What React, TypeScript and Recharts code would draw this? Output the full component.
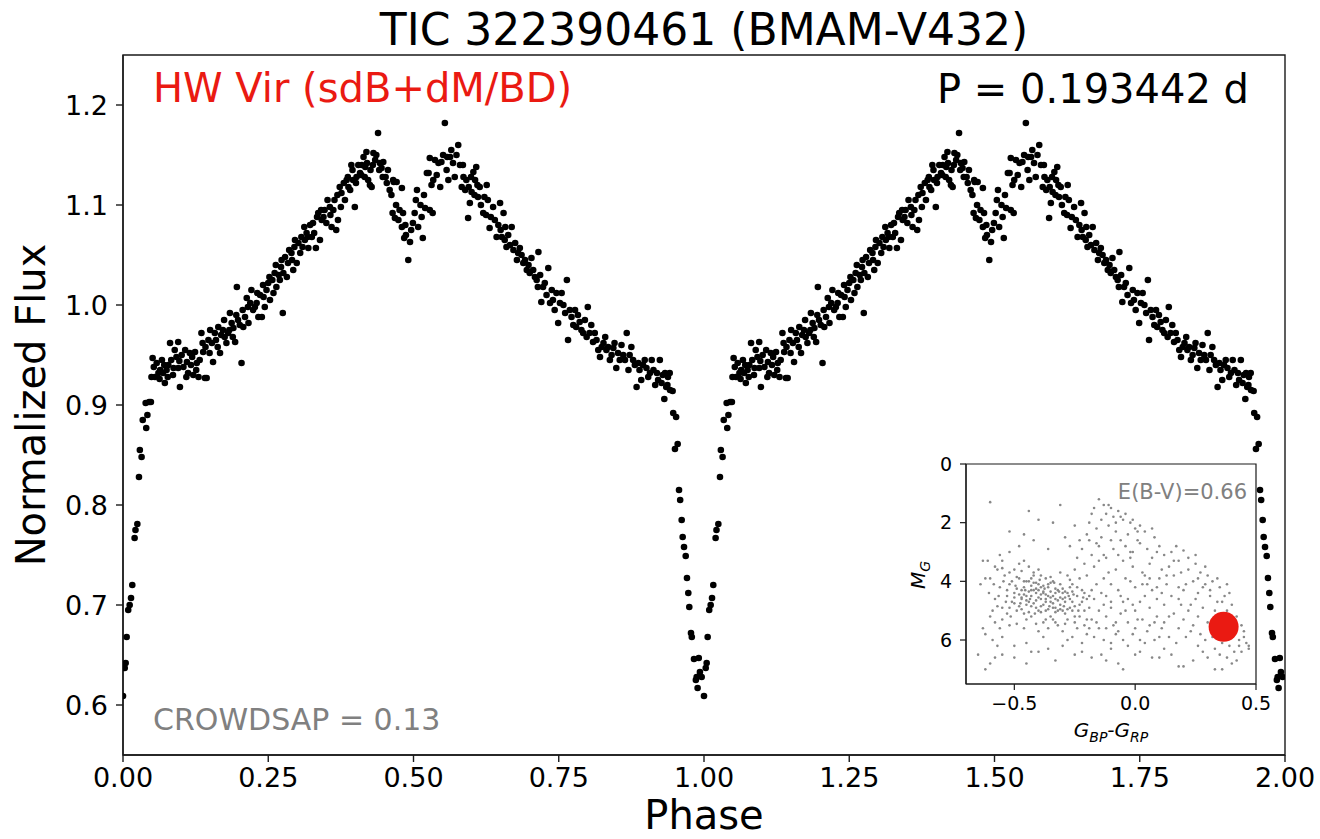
import React from 'react';
import { ScatterChart, Scatter, XAxis, YAxis, ReferenceArea } from 'recharts';

// one cycle of the folded light curve: [phase, normalized flux]
const EGRESS: [number, number][] = [
  [0.000, 0.609], [0.003, 0.637], [0.0046, 0.642], [0.0063, 0.668], [0.009, 0.695], [0.0115, 0.700],
  [0.0138, 0.707], [0.016, 0.720], [0.020, 0.767], [0.0215, 0.775], [0.0247, 0.781], [0.0275, 0.828],
  [0.029, 0.855], [0.032, 0.848], [0.034, 0.885], [0.040, 0.877], [0.042, 0.890], [0.039, 0.902],
  [0.045, 0.903], [0.048, 0.903],
];

const RISE: [number, number][] = [
  [0.049, 0.928], [0.051, 0.947], [0.055, 0.928], [0.061, 0.932], [0.064, 0.935], [0.067, 0.945],
  [0.069, 0.932], [0.072, 0.922], [0.075, 0.935], [0.078, 0.940], [0.081, 0.962], [0.087, 0.937],
  [0.089, 0.955], [0.095, 0.963], [0.095, 0.937], [0.098, 0.918], [0.101, 0.950], [0.107, 0.955],
  [0.110, 0.943], [0.112, 0.932], [0.115, 0.952], [0.121, 0.930], [0.124, 0.953], [0.127, 0.942],
  [0.130, 0.928], [0.135, 0.972], [0.138, 0.953], [0.141, 0.927], [0.144, 0.927], [0.147, 0.965],
  [0.150, 0.975], [0.155, 0.943], [0.158, 0.972], [0.164, 0.978], [0.167, 0.952], [0.172, 0.975],
  [0.175, 0.968], [0.181, 0.972], [0.184, 0.992], [0.187, 0.982], [0.190, 0.977], [0.193, 0.963],
  [0.196, 1.018], [0.198, 0.985], [0.204, 0.942], [0.207, 0.978], [0.213, 1.007], [0.216, 0.982],
  [0.221, 1.015], [0.224, 0.995], [0.230, 1.002], [0.233, 0.988], [0.239, 0.988], [0.242, 1.008],
  [0.244, 0.998], [0.250, 1.022], [0.253, 1.005], [0.259, 1.012], [0.261, 1.032], [0.264, 1.018],
  [0.270, 1.025], [0.273, 1.045], [0.275, 0.992], [0.276, 1.032], [0.282, 1.028], [0.284, 1.042],
  [0.290, 1.052], [0.293, 1.035], [0.296, 1.065], [0.299, 1.042], [0.305, 1.052], [0.307, 1.068],
  [0.313, 1.065], [0.316, 1.072], [0.319, 1.057], [0.325, 1.068], [0.327, 1.082], [0.332, 1.057],
  [0.336, 1.092], [0.339, 1.065], [0.342, 1.085], [0.347, 1.095], [0.350, 1.082], [0.356, 1.098],
  [0.359, 1.078], [0.362, 1.095], [0.367, 1.075], [0.370, 1.085], [0.373, 1.118], [0.376, 1.112],
  [0.382, 1.105], [0.385, 1.125], [0.388, 1.118], [0.393, 1.140], [0.396, 1.125], [0.399, 1.098],
  [0.402, 1.128], [0.408, 1.132], [0.411, 1.140], [0.414, 1.148], [0.417, 1.138], [0.419, 1.153],
  [0.422, 1.125], [0.425, 1.120], [0.428, 1.118], [0.431, 1.152], [0.434, 1.145], [0.439, 1.172],
  [0.442, 1.142], [0.445, 1.137], [0.448, 1.143],
  [0.053, 0.938], [0.058, 0.942], [0.063, 0.926], [0.071, 0.940], [0.077, 0.928], [0.083, 0.945],
  [0.086, 0.930], [0.092, 0.948], [0.097, 0.944], [0.104, 0.938], [0.109, 0.928], [0.117, 0.940],
  [0.119, 0.948], [0.126, 0.935], [0.132, 0.945], [0.137, 0.962], [0.142, 0.958], [0.149, 0.952],
  [0.153, 0.962], [0.160, 0.965], [0.163, 0.958], [0.169, 0.970], [0.174, 0.985], [0.178, 0.962],
  [0.183, 0.975], [0.189, 0.968], [0.195, 0.990], [0.201, 0.980], [0.206, 0.995], [0.210, 0.988],
  [0.215, 0.998], [0.219, 1.002], [0.227, 0.998], [0.231, 1.012], [0.236, 1.010], [0.241, 1.020],
  [0.247, 1.015], [0.252, 1.028], [0.257, 1.025], [0.263, 1.040], [0.268, 1.030], [0.272, 1.038],
  [0.279, 1.048], [0.286, 1.055], [0.291, 1.045], [0.295, 1.058], [0.302, 1.062], [0.309, 1.058],
  [0.312, 1.078], [0.318, 1.068], [0.322, 1.080], [0.329, 1.072], [0.334, 1.088], [0.341, 1.095],
  [0.345, 1.088], [0.352, 1.105], [0.357, 1.090], [0.364, 1.105], [0.369, 1.110], [0.375, 1.098],
  [0.380, 1.122], [0.387, 1.128], [0.391, 1.115], [0.395, 1.135], [0.401, 1.122], [0.405, 1.140],
  [0.410, 1.130], [0.416, 1.128], [0.420, 1.142], [0.426, 1.135], [0.430, 1.140], [0.436, 1.150],
  [0.441, 1.135], [0.447, 1.128],
];

const REFLECTION_DIP: [number, number][] = [
  [0.452, 1.128], [0.456, 1.135], [0.459, 1.115], [0.465, 1.125], [0.466, 1.123], [0.471, 1.123],
  [0.464, 1.092], [0.468, 1.087], [0.474, 1.085], [0.480, 1.117], [0.482, 1.092], [0.480, 1.078],
  [0.484, 1.067], [0.487, 1.070], [0.491, 1.045], [0.494, 1.063], [0.499, 1.082], [0.502, 1.092],
  [0.506, 1.115], [0.508, 1.078], [0.512, 1.100], [0.516, 1.067], [0.520, 1.097], [0.526, 1.132],
  [0.528, 1.095], [0.533, 1.092], [0.523, 1.132], [0.528, 1.147], [0.534, 1.125], [0.537, 1.145],
  [0.543, 1.142], [0.546, 1.118], [0.548, 1.143], [0.554, 1.182], [0.557, 1.135], [0.560, 1.125],
  [0.563, 1.148], [0.565, 1.155], [0.568, 1.142], [0.571, 1.128], [0.577, 1.160], [0.580, 1.140],
  [0.454, 1.122], [0.462, 1.110], [0.470, 1.100], [0.476, 1.095], [0.486, 1.080], [0.496, 1.075],
  [0.504, 1.105], [0.514, 1.088], [0.518, 1.110], [0.531, 1.120], [0.540, 1.130], [0.551, 1.150],
  [0.558, 1.148], [0.574, 1.150],
];

const DECLINE: [number, number][] = [
  [0.583, 1.118], [0.586, 1.128], [0.591, 1.125], [0.594, 1.087], [0.597, 1.102], [0.600, 1.113],
  [0.603, 1.133], [0.606, 1.125], [0.608, 1.138], [0.611, 1.108], [0.614, 1.118], [0.620, 1.092],
  [0.626, 1.120], [0.628, 1.105], [0.631, 1.077], [0.637, 1.098], [0.643, 1.068], [0.649, 1.102],
  [0.655, 1.092], [0.658, 1.078], [0.652, 1.068], [0.660, 1.058], [0.669, 1.078], [0.672, 1.055],
  [0.680, 1.052], [0.683, 1.057], [0.689, 1.042], [0.695, 1.035], [0.700, 1.032], [0.703, 1.047],
  [0.706, 1.035], [0.712, 1.025], [0.715, 1.053], [0.718, 1.030], [0.720, 1.003], [0.723, 1.018],
  [0.732, 1.037], [0.735, 1.002], [0.738, 1.015], [0.740, 1.005], [0.746, 1.012], [0.752, 1.002],
  [0.755, 1.012], [0.749, 0.982], [0.764, 1.025], [0.766, 0.965], [0.772, 0.988], [0.778, 0.995],
  [0.780, 0.978], [0.786, 0.983], [0.792, 0.972], [0.800, 0.998], [0.803, 0.972], [0.809, 0.963],
  [0.815, 0.965], [0.821, 0.948], [0.824, 0.958], [0.830, 0.968], [0.832, 0.955], [0.838, 0.945],
  [0.844, 0.957], [0.849, 0.937], [0.852, 0.952], [0.858, 0.960], [0.861, 0.950], [0.867, 0.972],
  [0.870, 0.935], [0.875, 0.958], [0.878, 0.945], [0.884, 0.918], [0.887, 0.942], [0.892, 0.925],
  [0.898, 0.945], [0.901, 0.937], [0.907, 0.932], [0.910, 0.945], [0.916, 0.920], [0.919, 0.932],
  [0.924, 0.945], [0.927, 0.922], [0.933, 0.932], [0.938, 0.928], [0.935, 0.918], [0.941, 0.932],
  [0.585, 1.140], [0.589, 1.115], [0.595, 1.118], [0.599, 1.128], [0.605, 1.110], [0.610, 1.120],
  [0.616, 1.100], [0.622, 1.108], [0.625, 1.090], [0.633, 1.088], [0.640, 1.085], [0.646, 1.080],
  [0.650, 1.075], [0.657, 1.065], [0.663, 1.070], [0.666, 1.060], [0.675, 1.062], [0.678, 1.045],
  [0.686, 1.050], [0.692, 1.045], [0.698, 1.040], [0.709, 1.028], [0.714, 1.018], [0.726, 1.022],
  [0.729, 1.010], [0.743, 0.995], [0.758, 1.000], [0.761, 0.992], [0.769, 0.995], [0.775, 0.980],
  [0.783, 0.990], [0.789, 0.975], [0.795, 0.985], [0.798, 0.968], [0.806, 0.980], [0.812, 0.972],
  [0.818, 0.955], [0.827, 0.962], [0.835, 0.958], [0.841, 0.950], [0.846, 0.962], [0.855, 0.945],
  [0.864, 0.945], [0.872, 0.950], [0.881, 0.940], [0.889, 0.935], [0.895, 0.940], [0.904, 0.928],
  [0.913, 0.935], [0.921, 0.925], [0.929, 0.930], [0.937, 0.920],
];

const INGRESS: [number, number][] = [
  [0.9317, 0.906], [0.9415, 0.915], [0.946, 0.914], [0.947, 0.892], [0.952, 0.888], [0.9547, 0.861],
  [0.950, 0.856], [0.957, 0.815], [0.959, 0.805], [0.9616, 0.785], [0.9633, 0.768], [0.9656, 0.758],
  [0.9685, 0.749], [0.9707, 0.727], [0.973, 0.712], [0.9747, 0.698], [0.9776, 0.672], [0.979, 0.668],
  [0.9828, 0.646], [0.991, 0.647], [0.9874, 0.628], [0.993, 0.633], [0.996, 0.628], [0.989, 0.617],
  [0.986, 0.625],
];

// Gaia CMD of comparison stars: [G_BP-G_RP, M_G]
const CMD_CLUSTER: [number, number][] = [
  [-0.52, 4.1], [-0.50, 4.4], [-0.48, 3.9], [-0.47, 4.6], [-0.46, 4.2], [-0.45, 4.8], [-0.44, 4.0], [-0.43, 4.5],
  [-0.42, 4.3], [-0.41, 4.9], [-0.40, 4.1], [-0.39, 4.6], [-0.38, 4.4], [-0.37, 5.0], [-0.36, 4.2], [-0.35, 4.7],
  [-0.34, 4.5], [-0.33, 4.9], [-0.32, 4.3], [-0.31, 4.8], [-0.30, 4.6], [-0.29, 5.1], [-0.28, 4.4], [-0.27, 4.9],
  [-0.26, 4.7], [-0.25, 5.2], [-0.24, 4.5], [-0.51, 4.7], [-0.49, 5.0], [-0.47, 4.3], [-0.46, 5.1], [-0.45, 4.0],
  [-0.44, 4.7], [-0.43, 5.2], [-0.42, 3.8], [-0.41, 4.4], [-0.40, 5.0], [-0.39, 4.2], [-0.38, 4.8], [-0.37, 3.9],
  [-0.36, 4.5], [-0.35, 5.2], [-0.34, 4.0], [-0.33, 4.6], [-0.32, 5.0], [-0.31, 4.1], [-0.30, 4.4], [-0.29, 4.7],
  [-0.28, 5.3], [-0.27, 4.2], [-0.26, 5.0], [-0.23, 4.8], [-0.22, 4.3], [-0.21, 5.0], [-0.20, 4.6], [-0.53, 4.5],
  [-0.54, 3.8], [-0.55, 4.9], [-0.56, 4.2], [-0.57, 3.6], [-0.58, 4.6], [-0.59, 5.0], [-0.60, 3.9], [-0.61, 3.3],
  [-0.58, 5.4], [-0.55, 5.3], [-0.52, 5.5], [-0.50, 3.6], [-0.48, 3.4], [-0.46, 3.3], [-0.44, 3.5], [-0.42, 3.7],
  [-0.40, 3.6], [-0.38, 5.4], [-0.36, 5.6], [-0.34, 5.3], [-0.32, 5.5], [-0.30, 5.0], [-0.28, 3.8], [-0.26, 4.1],
  [-0.24, 5.6], [-0.47, 4.55], [-0.44, 4.35], [-0.41, 4.65], [-0.39, 4.85], [-0.37, 4.45], [-0.43, 4.85],
  [-0.45, 4.5], [-0.40, 4.3], [-0.35, 4.35], [-0.33, 4.25], [-0.31, 4.55], [-0.29, 4.35], [-0.49, 4.25],
  [-0.50, 4.75], [-0.38, 4.15], [-0.36, 4.95], [-0.42, 4.05], [-0.34, 4.75], [-0.46, 4.45], [-0.43, 4.15],
  [-0.41, 4.25], [-0.39, 4.45], [-0.37, 4.7], [-0.35, 4.05], [-0.33, 5.05], [-0.48, 4.85], [-0.52, 4.9],
  [-0.53, 4.3], [-0.51, 4.0], [-0.50, 4.55], [-0.49, 3.85], [-0.48, 4.45], [-0.47, 4.95], [-0.46, 4.0],
  [-0.45, 4.65], [-0.44, 5.05], [-0.43, 4.3], [-0.42, 4.75], [-0.41, 4.05], [-0.40, 4.55], [-0.39, 5.05],
  [-0.38, 4.35], [-0.37, 4.6], [-0.36, 4.1], [-0.35, 4.55], [-0.34, 4.9], [-0.33, 4.4], [-0.32, 4.65],
  [-0.31, 4.95], [-0.30, 4.25], [-0.29, 4.55], [-0.28, 4.95], [-0.27, 4.6], [-0.26, 4.35], [-0.25, 4.85],
  [-0.24, 4.2], [-0.23, 5.2], [-0.22, 4.7], [-0.21, 4.4], [-0.20, 5.3], [-0.19, 4.5], [-0.535, 4.7],
  [-0.515, 5.2], [-0.495, 4.15], [-0.475, 4.75], [-0.455, 4.3], [-0.435, 4.6], [-0.415, 5.1], [-0.395, 3.95],
  [-0.375, 4.25], [-0.355, 4.85], [-0.335, 4.05], [-0.315, 4.35], [-0.295, 4.85], [-0.275, 4.5], [-0.255, 4.45],
  [-0.235, 5.0], [-0.215, 4.55], [-0.545, 4.0], [-0.565, 4.5], [-0.585, 4.1], [-0.605, 4.4], [-0.57, 4.85],
  [-0.55, 3.55], [-0.52, 3.7], [-0.47, 3.65], [-0.43, 3.9], [-0.39, 3.8], [-0.35, 3.85], [-0.31, 3.7],
  [-0.27, 3.95], [-0.23, 3.9], [-0.45, 5.3], [-0.41, 5.45], [-0.37, 5.3], [-0.33, 5.4], [-0.29, 5.45],
  [-0.25, 5.4], [-0.21, 5.5], [-0.49, 5.45], [-0.53, 5.1], [-0.56, 5.6], [-0.46, 5.6], [-0.40, 5.7],
  [-0.30, 5.7], [-0.26, 5.9],
];

const CMD_FIELD: [number, number][] = [
  [-0.17, 1.5], [-0.15, 1.2], [-0.13, 1.4], [-0.12, 1.7], [-0.10, 1.5], [-0.09, 1.8], [-0.07, 1.6], [-0.05, 1.9],
  [-0.04, 1.7], [-0.02, 2.0], [0.00, 2.2], [0.02, 2.1], [0.01, 2.3], [-0.18, 1.7], [-0.19, 2.0], [-0.20, 2.4],
  [-0.16, 2.2], [-0.14, 2.5], [-0.11, 2.1], [-0.08, 2.3], [-0.06, 2.6], [-0.03, 2.4], [-0.22, 2.9], [-0.18, 3.1],
  [-0.15, 2.8], [-0.12, 3.2], [-0.09, 2.9], [-0.05, 3.3], [-0.02, 3.0], [0.02, 2.7], [0.05, 2.9], [0.08, 2.5],
  [0.10, 2.8], [0.12, 3.1], [0.06, 3.4], [0.03, 3.7], [-0.01, 3.5], [-0.04, 3.9], [-0.08, 3.6], [-0.13, 3.9],
  [-0.17, 3.5], [-0.21, 3.4], [-0.24, 3.2], [-0.27, 2.8], [-0.25, 3.6], [0.15, 3.0], [0.18, 3.3], [0.20, 2.95],
  [0.22, 3.6], [0.25, 3.4], [0.27, 3.7], [0.30, 3.8], [0.32, 4.0], [0.28, 4.2], [0.24, 4.0], [0.20, 4.3],
  [0.16, 3.8], [0.13, 4.1], [0.10, 3.9], [0.07, 4.3], [0.04, 4.5], [0.00, 4.2], [-0.03, 4.6], [-0.07, 4.3],
  [-0.10, 4.7], [-0.14, 4.4], [-0.17, 4.6], [0.35, 4.2], [0.37, 4.5], [0.34, 4.7], [0.31, 4.5], [0.28, 4.9],
  [0.25, 4.6], [0.22, 5.0], [0.19, 4.8], [0.16, 5.1], [0.12, 4.8], [0.09, 5.2], [0.06, 4.9], [0.03, 5.3],
  [0.00, 5.0], [-0.03, 5.4], [-0.06, 5.1], [-0.09, 5.5], [-0.12, 5.2], [-0.15, 5.6], [-0.18, 5.3], [0.40, 4.8],
  [0.42, 5.2], [0.44, 5.5], [0.41, 5.7], [0.38, 5.3], [0.36, 5.9], [0.33, 5.6], [0.30, 5.4], [0.27, 5.8],
  [0.24, 5.5], [0.21, 5.9], [0.18, 5.6], [0.14, 5.9], [0.11, 5.6], [0.08, 6.0], [0.05, 5.7], [0.02, 6.0],
  [-0.01, 5.8], [-0.05, 6.0], [-0.08, 5.8], [-0.13, 6.0], [-0.20, 5.8], [-0.22, 6.1], [0.15, 4.5], [0.18, 4.2],
  [0.23, 4.8], [0.26, 4.4], [0.29, 4.1], [0.12, 5.4], [0.06, 5.5], [0.00, 5.6], [-0.04, 5.0], [-0.10, 4.9],
  [-0.15, 5.0], [-0.19, 4.9], [-0.19, 5.6], [-0.08, 5.4], [0.03, 4.1], [0.09, 4.6], [-0.01, 4.8], [-0.06, 4.5],
  [-0.10, 4.1], [-0.16, 4.1], [-0.20, 3.8], [0.14, 3.5], [0.19, 3.7], [0.07, 3.2], [0.04, 3.8], [-0.02, 3.2],
  [0.35, 5.2], [0.38, 5.0], [0.41, 5.4], [0.32, 5.9], [0.36, 6.1], [0.43, 6.0], [0.33, 6.3],
  [-0.14, 1.9], [-0.11, 1.4], [-0.06, 1.8], [-0.01, 1.9], [0.04, 2.3], [0.07, 2.2], [-0.16, 2.7], [-0.10, 2.6],
  [-0.04, 2.8], [0.01, 2.6], [0.09, 3.0], [0.16, 3.3], [0.22, 3.2], [0.26, 3.9], [0.11, 3.6], [-0.07, 3.1],
  [-0.19, 2.6], [-0.23, 2.6], [-0.15, 3.3], [-0.11, 3.7], [-0.02, 4.0], [0.05, 4.1], [0.09, 4.2], [0.18, 4.6],
  [0.31, 4.3], [0.38, 4.1], [0.39, 4.4], [0.33, 5.0], [0.26, 5.2], [0.20, 5.3], [0.14, 5.2], [0.08, 5.4],
  [0.01, 5.3], [-0.07, 5.7], [-0.12, 5.6], [-0.16, 5.4], [0.23, 5.7], [0.29, 6.0], [0.17, 6.1], [0.10, 5.9],
  [0.04, 6.1], [-0.03, 6.2], [-0.10, 6.1], [-0.17, 5.9], [0.45, 5.7], [0.47, 6.2], [0.41, 6.4], [0.35, 6.5],
  [0.28, 6.4], [-0.13, 4.8], [-0.05, 4.7], [0.02, 4.7], [0.11, 4.4], [-0.18, 4.3], [-0.12, 4.5], [0.06, 3.9],
  [0.21, 4.1], [0.13, 3.8], [-0.01, 3.0], [-0.13, 3.1], [-0.08, 2.0], [0.17, 2.8], [0.25, 3.1], [0.29, 3.5],
  [0.34, 3.9], [0.36, 4.7],
];

const CMD_SPARSE: [number, number][] = [
  [-0.65, 6.5], [-0.62, 7.0], [-0.60, 6.8], [-0.58, 6.6], [-0.55, 6.5], [-0.50, 6.6], [-0.45, 6.8], [-0.40, 6.4],
  [-0.33, 6.7], [-0.30, 6.2], [-0.25, 6.5], [-0.18, 6.6], [-0.14, 6.5], [-0.10, 6.3], [-0.07, 6.8], [-0.05, 7.0],
  [0.02, 6.4], [0.07, 6.6], [0.12, 6.3], [0.18, 6.9], [0.20, 6.9], [0.26, 6.2], [0.30, 6.6], [0.33, 7.0],
  [0.36, 7.0], [0.38, 6.6], [0.40, 6.8], [0.42, 6.7], [0.44, 6.4], [0.47, 6.3], [0.46, 6.1], [0.43, 6.2],
  [0.39, 6.2], [0.45, 5.9], [-0.62, 5.8], [-0.60, 5.2], [-0.57, 6.2], [-0.45, 6.1], [-0.38, 5.9], [-0.28, 6.0],
  [-0.60, 1.3], [-0.44, 1.6], [-0.31, 1.4], [-0.52, 2.3], [-0.40, 1.9], [-0.34, 2.0], [-0.63, 3.3], [-0.62, 3.9],
  [-0.48, 2.8], [-0.29, 2.5], [-0.25, 2.1], [-0.58, 3.5], [-0.64, 4.1], [-0.56, 3.1], [-0.52, 3.0], [-0.63, 5.6],
  [-0.59, 6.0], [-0.55, 5.9], [-0.50, 6.2], [-0.43, 6.4], [-0.36, 6.3], [-0.22, 6.4], [-0.12, 6.7], [0.00, 6.5],
  [0.10, 6.6], [0.15, 6.5], [0.24, 6.7], [-0.42, 2.6], [-0.36, 2.9], [-0.46, 2.4], [-0.55, 3.3],
];

const TARGET: [number, number][] = [[0.366, 5.55]];

const PHASE_TICKS = [0, 0.25, 0.5, 0.75, 1, 1.25, 1.5, 1.75, 2];
const FLUX_TICKS = [0.6, 0.7, 0.8, 0.9, 1.0, 1.1, 1.2];
const CMD_X_TICKS = [-0.5, 0, 0.5];
const CMD_Y_TICKS = [0, 2, 4, 6];

const CYCLE = [...EGRESS, ...RISE, ...REFLECTION_DIP, ...DECLINE, ...INGRESS];
// the folded curve is plotted twice, over phase 0-1 and 1-2
const LC = [0, 1].flatMap(k => CYCLE.map(([p, f]) => ({ phase: p + k, flux: f })));
const cmd = (pts: [number, number][]) => pts.map(([c, m]) => ({ c, m }));

const FONT = '"DejaVu Sans", sans-serif';
const AX = '#1a1a1a';
const RED = '#ea1a12';
const GRAY = '#888888';

const dot = (r: number, fill: string) => (p: any) => <circle cx={p.cx} cy={p.cy} r={r} fill={fill} />;
const minus = (v: number) => v.toFixed(1).replace('-', '\u2212');

export default function App() {
  return (
    <div style={{ position: 'absolute', left: 0, top: 0, width: 1320, height: 839, background: '#fff', fontFamily: FONT }}>
      {/* main light curve */}
      <div style={{ position: 'absolute', left: 0, top: 0 }}>
        <ScatterChart width={1320} height={839} margin={{ top: 55, right: 35, left: 23, bottom: 44 }}>
          <XAxis type="number" dataKey="phase" domain={[0, 2]} ticks={PHASE_TICKS} allowDataOverflow
            tickFormatter={(v: number) => v.toFixed(2)} height={40} tickSize={7} tickMargin={6}
            tick={{ fill: '#000', fontSize: 27, fontFamily: FONT }}
            axisLine={{ stroke: AX, strokeWidth: 1.4 }} tickLine={{ stroke: AX, strokeWidth: 1.4 }} />
          <YAxis type="number" dataKey="flux" domain={[0.55, 1.25]} ticks={FLUX_TICKS} allowDataOverflow
            tickFormatter={(v: number) => v.toFixed(1)} width={100} tickSize={7} tickMargin={8}
            tick={{ fill: '#000', fontSize: 27, fontFamily: FONT }}
            axisLine={{ stroke: AX, strokeWidth: 1.4 }} tickLine={{ stroke: AX, strokeWidth: 1.4 }} />
          <ReferenceArea x1={0} x2={2} y1={0.55} y2={1.25} fill="none" stroke={AX} strokeWidth={1.4} />
          <Scatter data={LC} isAnimationActive={false} shape={dot(3.3, '#000')} />
        </ScatterChart>
      </div>

      {/* white face of the inset axes */}
      <div style={{ position: 'absolute', left: 966, top: 464, width: 290, height: 220, background: '#fff' }} />

      {/* inset colour-magnitude diagram */}
      <div style={{ position: 'absolute', left: 880, top: 440 }}>
        <ScatterChart width={400} height={310} margin={{ top: 24, right: 24, left: 46, bottom: 36 }}>
          <XAxis type="number" dataKey="c" domain={[-0.7, 0.5]} ticks={CMD_X_TICKS} allowDataOverflow
            tickFormatter={minus} height={30} tickSize={6} tickMargin={7}
            tick={{ fill: '#000', fontSize: 19, fontFamily: FONT }}
            axisLine={{ stroke: AX, strokeWidth: 1.2 }} tickLine={{ stroke: AX, strokeWidth: 1.2 }} />
          <YAxis type="number" dataKey="m" domain={[0, 7.5]} ticks={CMD_Y_TICKS} reversed allowDataOverflow
            width={40} tickSize={6} tickMargin={8}
            tick={{ fill: '#000', fontSize: 19, fontFamily: FONT }}
            axisLine={{ stroke: AX, strokeWidth: 1.2 }} tickLine={{ stroke: AX, strokeWidth: 1.2 }} />
          <ReferenceArea x1={-0.7} x2={0.5} y1={0} y2={7.5} fill="none" stroke={AX} strokeWidth={1.2} />
          <Scatter data={cmd([...CMD_CLUSTER, ...CMD_FIELD, ...CMD_SPARSE])} isAnimationActive={false} shape={dot(1.3, GRAY)} />
          <Scatter data={cmd(TARGET)} isAnimationActive={false} shape={dot(15, RED)} />
        </ScatterChart>
      </div>

      {/* titles and annotations */}
      <svg width={1320} height={839} style={{ position: 'absolute', left: 0, top: 0, pointerEvents: 'none' }} fontFamily={FONT}>
        <text x={704} y={45} fontSize={44} textAnchor="middle" fill="#000">TIC 322390461 (BMAM-V432)</text>
        <text x={153} y={102} fontSize={40} fill={RED}>HW Vir (sdB+dM/BD)</text>
        <text x={1249} y={103} fontSize={40} textAnchor="end" fill="#000">P = 0.193442 d</text>
        <text x={153} y={730} fontSize={30} fill="#808080">CROWDSAP = 0.13</text>
        <text x={704} y={829} fontSize={40} textAnchor="middle" fill="#000">Phase</text>
        <text x={45} y={405} fontSize={40} textAnchor="middle" fill="#000" transform="rotate(-90 45 405)">Normalized Flux</text>
        <text x={1247} y={499} fontSize={21} textAnchor="end" fill="#808080">E(B-V)=0.66</text>
        <text x={1111} y={737} fontSize={20} textAnchor="middle" fill="#000" fontStyle="italic">
          G<tspan fontSize={14} dy={5}>BP</tspan><tspan dy={-5}>-</tspan>G<tspan fontSize={14} dy={5}>RP</tspan>
        </text>
        <text x={925} y={575} fontSize={20} textAnchor="middle" fill="#000" fontStyle="italic" transform="rotate(-90 925 575)">
          M<tspan fontSize={14} dy={5}>G</tspan>
        </text>
      </svg>
    </div>
  );
}
